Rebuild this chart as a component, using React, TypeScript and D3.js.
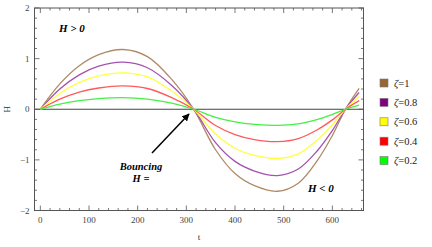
import React from "react";
import * as d3 from "d3";

const tValues = [0, 40, 80, 120, 170, 220, 270, 315, 360, 400, 440, 487, 530, 570, 600, 627, 655];
const zeta1 = [0, 0.50, 0.86, 1.08, 1.18, 1.04, 0.59, 0, -0.80, -1.27, -1.51, -1.62, -1.46, -1.00, -0.52, 0, 0.41];
const zeta08 = [0, 0.40, 0.68, 0.85, 0.93, 0.82, 0.47, 0, -0.66, -1.03, -1.22, -1.31, -1.18, -0.81, -0.42, 0, 0.33];
const zeta06 = [0, 0.31, 0.53, 0.66, 0.72, 0.64, 0.36, 0, -0.49, -0.77, -0.91, -0.97, -0.88, -0.60, -0.31, 0, 0.25];
const zeta04 = [0, 0.20, 0.34, 0.42, 0.46, 0.41, 0.23, 0, -0.32, -0.50, -0.60, -0.64, -0.58, -0.40, -0.21, 0, 0.17];
const zeta02 = [0, 0.10, 0.17, 0.21, 0.23, 0.20, 0.12, 0, -0.16, -0.25, -0.30, -0.32, -0.29, -0.20, -0.10, 0, 0.08];

const seriesLabels = ["\u03B6=1", "\u03B6=0.8", "\u03B6=0.6", "\u03B6=0.4", "\u03B6=0.2"];
const seriesValues = [zeta1, zeta08, zeta06, zeta04, zeta02];
const lineColors = ["#b08a66", "#a452b0", "#ffff40", "#ff5a5a", "#44f044"];
const swatchColors = ["#996633", "#800080", "#ffff00", "#ff0000", "#00ff00"];

const xTicks = [0, 100, 200, 300, 400, 500, 600];
const yTicks = [-2, -1, 0, 1, 2];

export default function App() {
  const W = 432, H = 247;
  const left = 34.5, right = 363.5, top = 8, bottom = 210.5;
  const x = d3.scaleLinear().domain([-12, 664]).range([left, right]);
  const y = d3.scaleLinear().domain([-2, 2]).range([bottom, top]);

  const line = d3
    .line<number>()
    .x((_, i) => x(tValues[i]))
    .y((v) => y(v))
    .curve(d3.curveCatmullRom.alpha(0.5));

  const xMinor = d3.range(0, 661, 20);
  const yMinor = d3.range(-2, 2.001, 0.2).map((v) => Math.round(v * 10) / 10);

  const tickCol = "#555";
  const labelFont = "'Liberation Serif', serif";

  return (
    <svg width={W} height={H} style={{ position: "absolute", left: 0, top: 0 }}>
      <rect x={0} y={0} width={W} height={H} fill="white" />
      <defs>
        <clipPath id="plotclip">
          <rect x={left} y={top} width={right - left} height={bottom - top} />
        </clipPath>
        <marker id="arrowhead" viewBox="0 0 10 10" refX={9} refY={5} markerWidth={5} markerHeight={5} orient="auto">
          <path d="M0,0 L10,5 L0,10 z" fill="#000" />
        </marker>
      </defs>

      <line x1={left} x2={right} y1={y(0)} y2={y(0)} stroke="#444" strokeWidth={1} />

      <g clipPath="url(#plotclip)">
        {seriesValues.map((vals, i) => (
          <path key={i} d={line(vals) || ""} fill="none" stroke={lineColors[i]} strokeWidth={1.3} />
        ))}
      </g>

      <rect x={left} y={top} width={right - left} height={bottom - top} fill="none" stroke={tickCol} strokeWidth={1} />

      {xMinor.map((v) => {
        const major = v % 100 === 0;
        const len = major ? 5 : 2.5;
        return (
          <g key={"x" + v}>
            <line x1={x(v)} x2={x(v)} y1={bottom} y2={bottom - len} stroke={tickCol} strokeWidth={0.8} />
            <line x1={x(v)} x2={x(v)} y1={top} y2={top + len} stroke={tickCol} strokeWidth={0.8} />
          </g>
        );
      })}
      {yMinor.map((v) => {
        const major = Number.isInteger(v);
        const len = major ? 5 : 2.5;
        return (
          <g key={"y" + v}>
            <line x1={left} x2={left + len} y1={y(v)} y2={y(v)} stroke={tickCol} strokeWidth={0.8} />
            <line x1={right} x2={right - len} y1={y(v)} y2={y(v)} stroke={tickCol} strokeWidth={0.8} />
          </g>
        );
      })}

      {xTicks.map((v) => (
        <text key={"xl" + v} x={x(v)} y={bottom + 12} textAnchor="middle" fontSize={9} fontFamily={labelFont} fill="#444">
          {v}
        </text>
      ))}
      {yTicks.map((v) => (
        <text key={"yl" + v} x={left - 5} y={y(v) + 3} textAnchor="end" fontSize={9} fontFamily={labelFont} fill="#444">
          {v < 0 ? "\u2212" + Math.abs(v) : v}
        </text>
      ))}

      <text x={7} y={y(0)} transform={`rotate(-90 7 ${y(0)})`} textAnchor="middle" dominantBaseline="central" fontSize={9} fontFamily={labelFont} fill="#333">
        H
      </text>
      <text x={199} y={240} textAnchor="middle" fontSize={9} fontFamily={labelFont} fill="#333">
        t
      </text>

      <text x={59} y={32} fontSize={11} fontWeight="bold" fontStyle="italic" fontFamily={labelFont} fill="#000">
        H &gt; 0
      </text>
      <text x={308} y={192} fontSize={11} fontWeight="bold" fontStyle="italic" fontFamily={labelFont} fill="#000">
        H &lt; 0
      </text>
      <text x={141} y={170} textAnchor="middle" fontSize={10.5} fontWeight="bold" fontStyle="italic" fontFamily={labelFont} fill="#000">
        Bouncing
      </text>
      <text x={141} y={181.5} textAnchor="middle" fontSize={10.5} fontWeight="bold" fontStyle="italic" fontFamily={labelFont} fill="#000">
        H =
      </text>
      <line x1={152} y1={153} x2={189} y2={114} stroke="#000" strokeWidth={1.5} markerEnd="url(#arrowhead)" />

      {seriesLabels.map((lab, i) => {
        const cy = 83 + i * 19.4;
        return (
          <g key={lab}>
            <rect x={380} y={cy - 4} width={8} height={8} fill={swatchColors[i]} stroke="#777" strokeWidth={0.6} />
            <text x={394} y={cy + 3.5} fontSize={10.5} fontFamily={labelFont} fill="#222">
              <tspan fontStyle="italic">{"\u03B6"}</tspan>
              {lab.slice(1)}
            </text>
          </g>
        );
      })}
    </svg>
  );
}
